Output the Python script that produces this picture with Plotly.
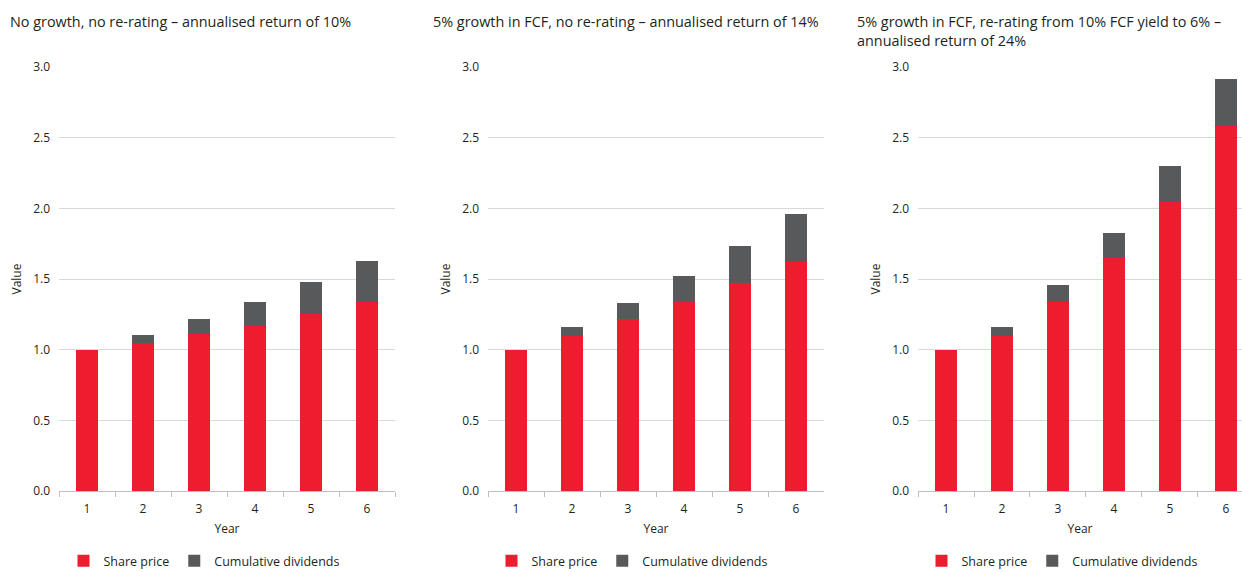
import plotly.graph_objects as go

years = ["1", "2", "3", "4", "5", "6"]

titles = [
    "No growth, no re-rating – annualised return of 10%",
    "5% growth in FCF, no re-rating – annualised return of 14%",
    "5% growth in FCF, re-rating from 10% FCF yield to 6% –<br>annualised return of 24%",
]

# Panel 1: no growth, no re-rating
price_1 = [1.00, 1.05, 1.11, 1.17, 1.25, 1.335]
divs_1 = [0.00, 0.055, 0.105, 0.17, 0.23, 0.295]

# Panel 2: 5% growth in FCF, no re-rating
price_2 = [1.00, 1.10, 1.215, 1.34, 1.475, 1.63]
divs_2 = [0.00, 0.058, 0.113, 0.18, 0.255, 0.332]

# Panel 3: 5% growth, re-rating
price_3 = [1.00, 1.10, 1.345, 1.65, 2.048, 2.585]
divs_3 = [0.00, 0.058, 0.113, 0.178, 0.252, 0.331]

RED = "#ED1C2E"
GREY = "#58595B"
FONT = "'Open Sans', sans-serif"
TXT = "#231F20"

W, H = 1242, 572
panels = [
    (price_1, divs_1, 59, 395, [-0.5, 5.5]),
    (price_2, divs_2, 488, 824, [-0.5, 5.5]),
    (price_3, divs_3, 918, 1242, [-0.5, 5.286]),
]
title_x = [8, 431, 855]
legend_cx = [204, 632, 1062]

ybot = 1 - 491 / H
ytop = 1 - 67 / H

fig = go.Figure()
layout = dict(
    width=W, height=H,
    margin=dict(l=0, r=0, t=0, b=0, autoexpand=False),
    paper_bgcolor="white", plot_bgcolor="white",
    barmode="stack",
    bargap=0.61,
    font=dict(family=FONT, size=12, color=TXT),
    annotations=[],
)

for i, (price, divs, x0, x1, xr) in enumerate(panels):
    n = i + 1
    xa = "x" if n == 1 else f"x{n}"
    ya = "y" if n == 1 else f"y{n}"
    lg = "legend" if n == 1 else f"legend{n}"
    fig.add_trace(go.Bar(x=years, y=price, name="Share price", marker=dict(color=RED, line=dict(width=0)),
                         xaxis=xa, yaxis=ya, legend=lg))
    fig.add_trace(go.Bar(x=years, y=divs, name="Cumulative dividends", marker=dict(color=GREY, line=dict(width=0)),
                         xaxis=xa, yaxis=ya, legend=lg))
    xkey = "xaxis" if n == 1 else f"xaxis{n}"
    ykey = "yaxis" if n == 1 else f"yaxis{n}"
    layout[xkey] = dict(
        domain=[x0 / W, x1 / W], anchor=ya, type="category", range=xr,
        showgrid=False, showline=True, linecolor="#BFBFBF", linewidth=1,
        ticks="outside", tickson="boundaries", ticklen=5, tickcolor="#BFBFBF",
        ticklabelstandoff=7,
        tickfont=dict(size=12, color=TXT),
        title=dict(text="Year", font=dict(size=12, color=TXT), standoff=8),
        automargin=False, fixedrange=True,
    )
    layout[ykey] = dict(
        domain=[ybot, ytop], anchor=xa, range=[0, 3.0], dtick=0.5, tickformat=".1f",
        showgrid=True, gridcolor="#D9D9D9", gridwidth=1, zeroline=False,
        showline=False, ticks="", tickfont=dict(size=12, color=TXT),
        ticklabelstandoff=8,
        title=dict(text="Value", font=dict(size=12, color=TXT), standoff=8),
        automargin=False, fixedrange=True,
    )
    layout[lg] = dict(
        orientation="h", x=legend_cx[i] / W, xanchor="center",
        y=1 - 561 / H, yanchor="middle", traceorder="normal",
        font=dict(size=12.5, color=TXT), itemwidth=30, tracegroupgap=0,
        bgcolor="rgba(0,0,0,0)",
    )
    layout["annotations"].append(dict(
        text=titles[i], x=title_x[i] / W, y=1 - 10 / H, xref="paper", yref="paper",
        xanchor="left", yanchor="top", align="left", showarrow=False,
        font=dict(size=14.4, color=TXT, family=FONT),
    ))

fig.update_layout(**layout)
fig.write_html("out.html")
